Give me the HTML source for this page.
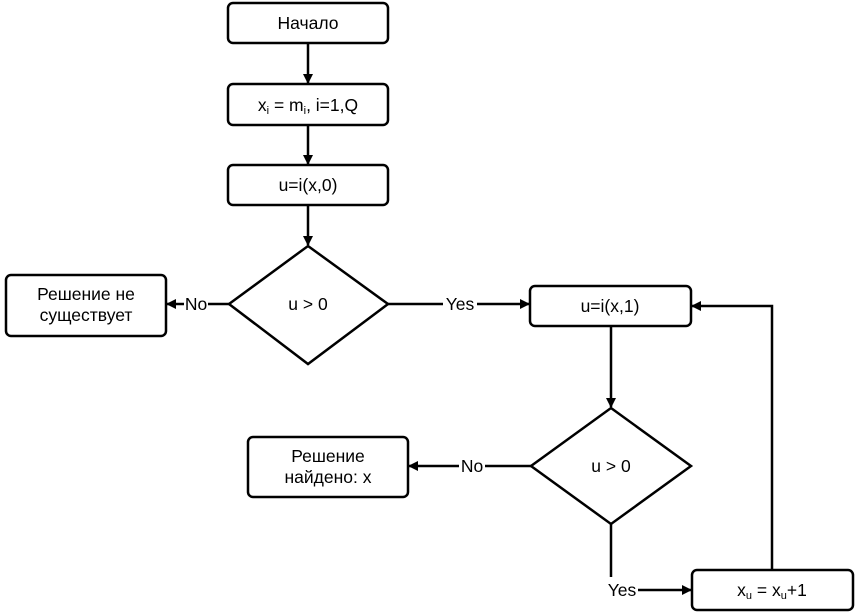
<!DOCTYPE html>
<html><head><meta charset="utf-8"><style>
html,body{margin:0;padding:0;background:#fff;}
svg{display:block;}
text{font-family:"Liberation Sans",sans-serif;font-size:17.5px;fill:#000;}
</style></head><body>
<svg width="858" height="614" viewBox="0 0 858 614" xmlns="http://www.w3.org/2000/svg">
<defs>
<marker id="a" markerWidth="10" markerHeight="10" refX="9" refY="5" orient="auto" markerUnits="userSpaceOnUse">
<path d="M0,0 L10,5 L0,10 z" fill="#000"/></marker>
</defs>
<g fill="#fff" stroke="#000" stroke-width="2.5">
<rect x="228" y="3" width="160" height="40" rx="5"/>
<rect x="228" y="84" width="160" height="41" rx="5"/>
<rect x="228" y="165" width="160" height="40" rx="5"/>
<polygon points="308,246 388,304 308,364 229,304"/>
<rect x="6" y="275" width="160" height="61" rx="5"/>
<rect x="530" y="286" width="161" height="40" rx="5"/>
<polygon points="611,408 691,466 611,524 531,466"/>
<rect x="248" y="437" width="160" height="60" rx="5"/>
<rect x="692" y="570" width="161" height="40" rx="5"/>
</g>
<g stroke="#000" stroke-width="2.5" fill="none">
<line x1="308" y1="43" x2="308" y2="83" marker-end="url(#a)"/>
<line x1="308" y1="125" x2="308" y2="164" marker-end="url(#a)"/>
<line x1="308" y1="205" x2="308" y2="245" marker-end="url(#a)"/>
<line x1="229" y1="304" x2="208" y2="304"/>
<line x1="184" y1="304" x2="167" y2="304" marker-end="url(#a)"/>
<line x1="388" y1="304" x2="443" y2="304"/>
<line x1="477" y1="304" x2="529" y2="304" marker-end="url(#a)"/>
<line x1="611" y1="326" x2="611" y2="407" marker-end="url(#a)"/>
<line x1="531" y1="466" x2="485" y2="466"/>
<line x1="459" y1="466" x2="409" y2="466" marker-end="url(#a)"/>
<line x1="611" y1="524" x2="611" y2="577"/>
<line x1="638" y1="590" x2="691" y2="590" marker-end="url(#a)"/>
<polyline points="772,570 772,306 692,306" marker-end="url(#a)"/>
</g>
<g text-anchor="middle">
<text x="308" y="29">Начало</text>
<text x="308" y="111">x<tspan font-size="11" dy="3">i</tspan><tspan dy="-3"> = m</tspan><tspan font-size="11" dy="3">i</tspan><tspan dy="-3">, i=1,Q</tspan></text>
<text x="308" y="191">u=i(x,0)</text>
<text x="308" y="310">u &gt; 0</text>
<text x="86" y="300">Решение не</text>
<text x="86" y="321">существует</text>
<text x="196" y="310">No</text>
<text x="460" y="310">Yes</text>
<text x="610" y="312">u=i(x,1)</text>
<text x="611" y="472">u &gt; 0</text>
<text x="328" y="462">Решение</text>
<text x="328" y="483">найдено: x</text>
<text x="472" y="472">No</text>
<text x="622" y="596">Yes</text>
<text x="772" y="596">x<tspan font-size="11" dy="3">u</tspan><tspan dy="-3"> = x</tspan><tspan font-size="11" dy="3">u</tspan><tspan dy="-3">+1</tspan></text>
</g>
</svg>
</body></html>
